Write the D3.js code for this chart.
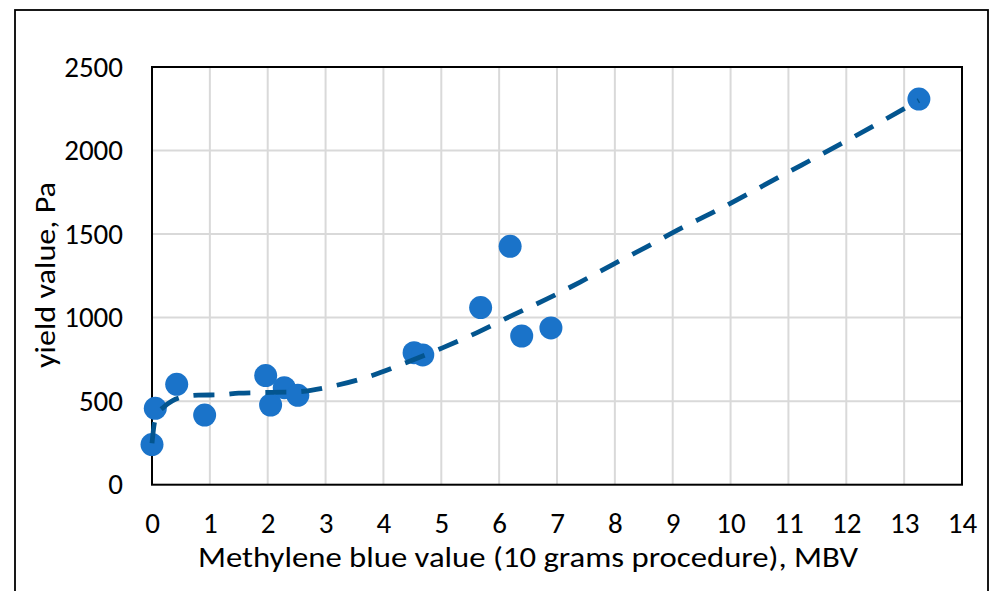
<!DOCTYPE html>
<html>
<head>
<meta charset="utf-8">
<script src="https://cdn.jsdelivr.net/npm/d3@7"></script>
<style>
  html, body { margin: 0; padding: 0; background: #fff; }
  svg { display: block; font-family: Calibri, Carlito, Lato, sans-serif; }
</style>
</head>
<body>
<svg id="chart" width="995" height="591"></svg>
<script>
// Measured samples: methylene blue value vs yield value
const mbv = [0, 0.057, 0.427, 0.91, 1.965, 2.05, 2.286, 2.52, 4.53, 4.68, 5.68, 6.19, 6.39, 6.895, 13.255];
const yieldPa = [240, 457, 601, 417, 653, 477, 581, 535, 790, 777, 1060, 1427, 890, 938, 2308];

// Fitted trend curve through the samples
const trendX = [0, 0.04, 0.1, 0.2, 0.35, 0.52, 0.8, 1.2, 1.5, 1.85, 2.5, 3.15, 3.78, 4.4, 5.02, 5.61, 6.2, 6.81, 7.4, 7.97, 8.55, 9.14, 9.72, 10.88, 12.03, 13.255];
const trendY = [248, 367, 425, 464, 502, 524, 536, 538, 548, 551, 556, 592, 651, 732, 819, 909, 1009, 1109, 1213, 1319, 1424, 1534, 1634, 1849, 2063, 2300];

const xTicks = d3.range(0, 15, 1);
const yTicks = [0, 500, 1000, 1500, 2000, 2500];

const svg = d3.select("#chart");
const plot = { left: 152, right: 962, top: 67, bottom: 484.7 };

const x = d3.scaleLinear().domain([0, 14]).range([plot.left, plot.right]);
const y = d3.scaleLinear().domain([0, 2500]).range([plot.bottom, plot.top]);

// Outer chart frame
svg.append("rect")
  .attr("x", 15).attr("y", 10).attr("width", 973).attr("height", 600)
  .attr("fill", "#fff").attr("stroke", "#000").attr("stroke-width", 1.8);

// Gridlines
svg.append("g").selectAll("line").data(xTicks.slice(1, -1)).join("line")
  .attr("x1", d => x(d)).attr("x2", d => x(d))
  .attr("y1", plot.top).attr("y2", plot.bottom)
  .attr("stroke", "#d9d9d9").attr("stroke-width", 2);
svg.append("g").selectAll("line").data(yTicks.slice(1, -1)).join("line")
  .attr("x1", plot.left).attr("x2", plot.right)
  .attr("y1", d => y(d)).attr("y2", d => y(d))
  .attr("stroke", "#d9d9d9").attr("stroke-width", 2);

// Plot area border
svg.append("rect")
  .attr("x", plot.left).attr("y", plot.top)
  .attr("width", plot.right - plot.left).attr("height", plot.bottom - plot.top)
  .attr("fill", "none").attr("stroke", "#000").attr("stroke-width", 2);

// Axes (labels only; lines drawn by the border)
const xAxis = svg.append("g").attr("transform", `translate(0,${plot.bottom})`)
  .call(d3.axisBottom(x).tickValues(xTicks).tickSize(0).tickPadding(28).tickFormat(d3.format("d")));
const yAxis = svg.append("g").attr("transform", `translate(${plot.left},0)`)
  .call(d3.axisLeft(y).tickValues(yTicks).tickSize(0).tickPadding(29).tickFormat(d3.format("d")));
[xAxis, yAxis].forEach(a => {
  a.select(".domain").remove();
  a.selectAll("text").attr("font-size", 29).attr("fill", "#000")
    .style("font-family", "Calibri, Carlito, Lato, sans-serif");
});

// Scatter points
svg.append("g").selectAll("circle").data(mbv.map((v, i) => [v, yieldPa[i]])).join("circle")
  .attr("cx", d => x(d[0])).attr("cy", d => y(d[1])).attr("r", 11.5)
  .attr("fill", "#1a73c9");

// Dashed trend curve
const line = d3.line().x(d => x(d[0])).y(d => y(d[1])).curve(d3.curveMonotoneX);
svg.append("path")
  .datum(trendX.map((v, i) => [v, trendY[i]]))
  .attr("d", line)
  .attr("fill", "none").attr("stroke", "#03558f").attr("stroke-width", 4.8)
  .attr("stroke-dasharray", "21 15");

// Axis titles
svg.append("text")
  .attr("x", 528).attr("y", 567)
  .attr("text-anchor", "middle").attr("font-size", 29).attr("fill", "#000")
  .attr("textLength", 660).attr("lengthAdjust", "spacingAndGlyphs")
  .text("Methylene blue value (10 grams procedure), MBV");
svg.append("text")
  .attr("transform", `translate(55,275) rotate(-90)`)
  .attr("text-anchor", "middle").attr("font-size", 29).attr("fill", "#000")
  .attr("textLength", 186).attr("lengthAdjust", "spacingAndGlyphs")
  .text("yield value, Pa");
</script>
</body>
</html>
